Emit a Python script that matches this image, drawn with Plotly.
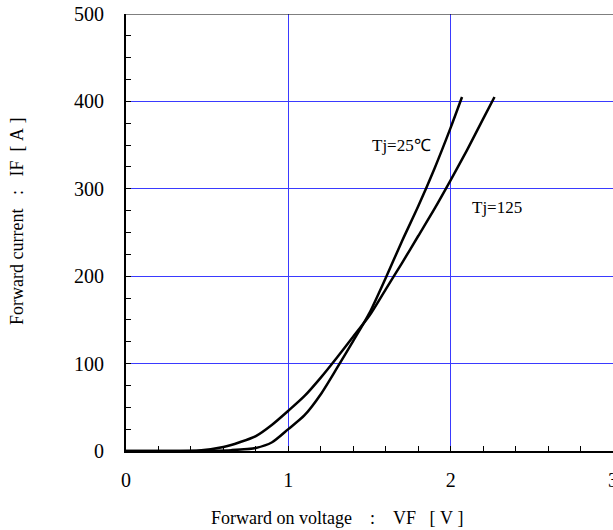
import plotly.graph_objects as go

# Forward characteristics
vf_25 = [0, 0.3, 0.5, 0.65, 0.8, 0.9, 1.0, 1.1, 1.2, 1.3, 1.4, 1.5, 1.6, 1.7, 1.8, 1.9, 2.0, 2.07]
if_25 = [0, 0, 0.3, 1, 3.5, 10, 25, 41, 65, 95, 126, 158, 198, 240, 280, 323, 370, 405]

vf_125 = [0, 0.3, 0.45, 0.6, 0.7, 0.8, 0.9, 1.0, 1.1, 1.2, 1.3, 1.4, 1.5, 1.6, 1.7, 1.8, 1.9, 2.0, 2.1, 2.2, 2.27]
if_125 = [0, 0, 0.5, 4.5, 10, 17, 30, 46, 63, 84, 107, 131, 155, 185, 215, 246, 277, 310, 344, 380, 405]

x_ticks = [0, 1, 2, 3]
y_ticks = [0, 100, 200, 300, 400, 500]

label_25 = "Tj=25℃"
label_125 = "Tj=125"
NB = "\u00a0"
x_title = "Forward on voltage" + NB * 4 + ":" + NB * 4 + "VF" + NB * 3 + "[" + NB + "V" + NB + "]"
y_title = "Forward current" + NB * 3 + ":" + NB * 3 + "IF" + NB * 2 + "[" + NB + "A" + NB + "]"

FONT = "Liberation Serif"
GRID = "#3a3aff"

fig = go.Figure()
fig.add_trace(go.Scatter(x=vf_25, y=if_25, mode="lines",
                         line=dict(color="black", width=2.5, shape="spline", smoothing=0.7),
                         showlegend=False))
fig.add_trace(go.Scatter(x=vf_125, y=if_125, mode="lines",
                         line=dict(color="black", width=2.5, shape="spline", smoothing=0.7),
                         showlegend=False))

fig.add_annotation(x=1.5, y=350, text=label_25, showarrow=False, xanchor="left",
                   yanchor="middle", font=dict(family=FONT, size=17, color="black"))
fig.add_annotation(x=2.12, y=279, text=label_125, showarrow=False, xanchor="left",
                   yanchor="middle", font=dict(family=FONT, size=17, color="black"))

# axis titles
fig.add_annotation(xref="paper", yref="paper", x=0.4333, y=-0.1533, text=x_title,
                   showarrow=False, xanchor="center", yanchor="middle",
                   font=dict(family=FONT, size=18, color="black"))
fig.add_annotation(xref="paper", yref="paper", x=-0.2238, y=0.524, text=y_title,
                   showarrow=False, xanchor="center", yanchor="middle", textangle=-90,
                   font=dict(family=FONT, size=18, color="black"))

# top border
fig.add_shape(type="line", xref="paper", yref="y", x0=0, x1=1, y0=500, y1=500,
              line=dict(color="black", width=1))

fig.update_xaxes(range=[0, 3], tickvals=x_ticks, ticktext=[str(v) for v in x_ticks],
                 showline=True, linecolor="black", linewidth=2,
                 ticks="inside", ticklen=5, tickcolor="black", tickwidth=1,
                 minor=dict(ticks="inside", ticklen=5, dtick=0.2, tickcolor="black",
                            tickwidth=1, showgrid=False),
                 showgrid=True, gridcolor=GRID, gridwidth=1.2, zeroline=False,
                 tickfont=dict(family=FONT, size=20, color="black"),
                 ticklabelstandoff=10, ticklabeloverflow="allow")
fig.update_yaxes(range=[0, 500], tickvals=y_ticks, ticktext=[str(v) for v in y_ticks],
                 showline=True, linecolor="black", linewidth=2,
                 ticks="inside", ticklen=5, tickcolor="black", tickwidth=1,
                 minor=dict(ticks="inside", ticklen=5, dtick=25, tickcolor="black",
                            tickwidth=1, showgrid=False),
                 showgrid=True, gridcolor=GRID, gridwidth=1.2, zeroline=False,
                 tickfont=dict(family=FONT, size=20, color="black"),
                 ticklabelstandoff=16, ticklabeloverflow="allow")

fig.update_layout(width=613, height=530,
                  margin=dict(l=126, r=0, t=14, b=79, autoexpand=False),
                  plot_bgcolor="white", paper_bgcolor="white")

fig.write_html("out.html", config={"displayModeBar": False},
               post_script="document.body.style.margin='0';document.body.style.overflow='hidden';")
